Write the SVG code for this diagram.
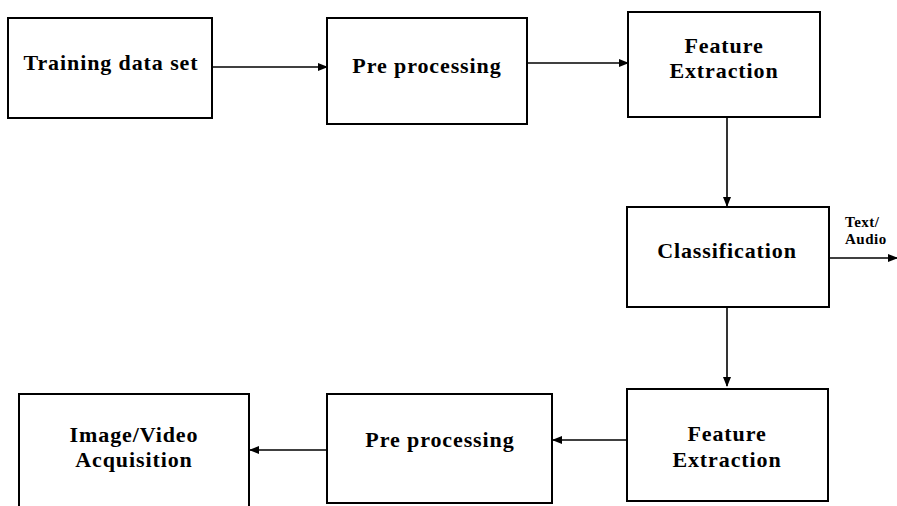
<svg xmlns="http://www.w3.org/2000/svg" width="897" height="506" viewBox="0 0 897 506">
<defs>
<marker id="ah" markerWidth="10" markerHeight="8" refX="9" refY="4" orient="auto" markerUnits="userSpaceOnUse">
<path d="M0,0 L10,4 L0,8 Z" fill="#000"/>
</marker>
<style>
.box{fill:#fff;stroke:#000;stroke-width:2}
.t{font-family:"Liberation Serif","DejaVu Serif",serif;font-weight:bold;font-size:22px;letter-spacing:0.9px;fill:#000;text-anchor:middle}
.s{font-family:"Liberation Serif","DejaVu Serif",serif;font-weight:bold;font-size:15px;letter-spacing:0.5px;fill:#000}
.c{stroke:#000;stroke-width:1.6;fill:none;marker-end:url(#ah)}
</style>
</defs>
<rect width="897" height="506" fill="#fff"/>
<g id="training">
<rect class="box" x="8" y="18" width="204" height="100"/>
<text class="t" x="111" y="70">Training data set</text>
</g>
<g id="preprocessing1">
<rect class="box" x="327" y="18" width="200" height="106"/>
<text class="t" x="427" y="73">Pre processing</text>
</g>
<g id="feature1">
<rect class="box" x="628" y="12" width="192" height="105"/>
<text class="t" x="724" y="53">Feature</text>
<text class="t" x="724" y="78">Extraction</text>
</g>
<g id="classification">
<rect class="box" x="627" y="207" width="202" height="100"/>
<text class="t" x="727" y="258">Classification</text>
</g>
<g id="textaudio">
<text class="s" x="845" y="227">Text/</text>
<text class="s" x="845" y="244">Audio</text>
</g>
<g id="feature2">
<rect class="box" x="627" y="389" width="201" height="112"/>
<text class="t" x="727" y="441">Feature</text>
<text class="t" x="727" y="467">Extraction</text>
</g>
<g id="preprocessing2">
<rect class="box" x="327" y="394" width="225" height="109"/>
<text class="t" x="440" y="447">Pre processing</text>
</g>
<g id="acquisition">
<rect class="box" x="19" y="394" width="230" height="120"/>
<text class="t" x="134" y="442">Image/Video</text>
<text class="t" x="134" y="467">Acquisition</text>
</g>
<g id="connectors">
<line class="c" x1="212" y1="67" x2="327" y2="67"/>
<line class="c" x1="527" y1="63" x2="628" y2="63"/>
<line class="c" x1="727" y1="117" x2="727" y2="206"/>
<line class="c" x1="829" y1="258" x2="897" y2="258"/>
<line class="c" x1="727" y1="307" x2="727" y2="386"/>
<line class="c" x1="627" y1="440" x2="553" y2="440"/>
<line class="c" x1="327" y1="450" x2="250" y2="450"/>
</g>
</svg>
